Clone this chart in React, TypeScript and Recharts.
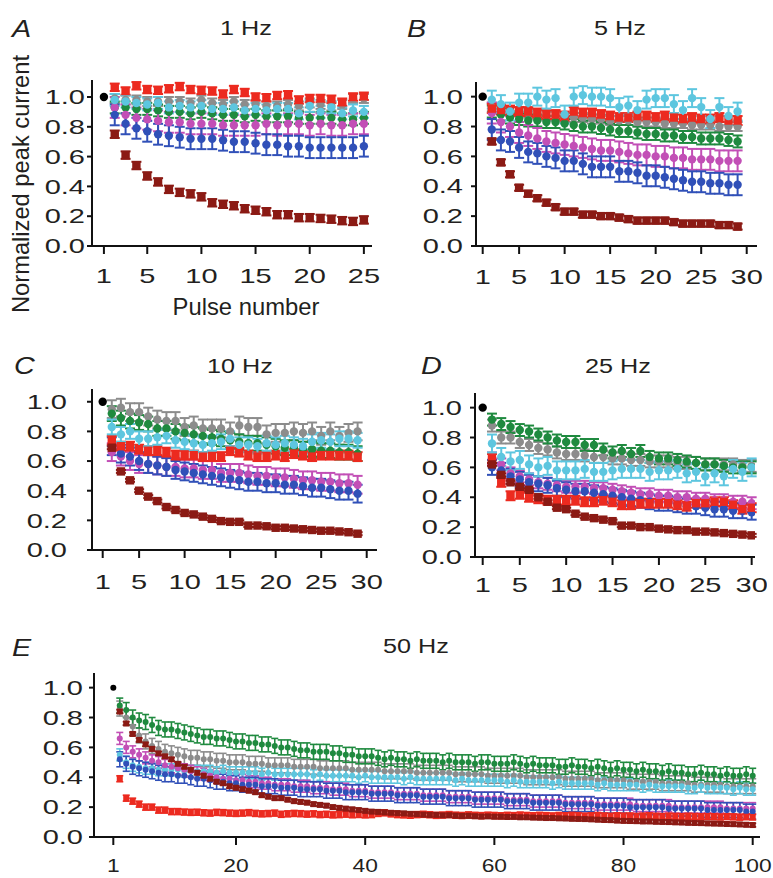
import React from 'react';
import { LineChart, Line, XAxis, YAxis, ErrorBar } from 'recharts';

const FONT = '"Liberation Sans", Arial, Helvetica, sans-serif';
const INK = '#231f20';

const COLORS: Record<string, string> = {
  gray: '#8c8c8c',
  green: '#1f8a3f',
  magenta: '#c24fb6',
  blue: '#3050b8',
  red: '#ec2a1f',
  cyan: '#5dc6df',
  maroon: '#8b1a14',
};
const SQUARES = ['maroon', 'red'];

const yTicks = [0, 0.2, 0.4, 0.6, 0.8, 1.0];
const xTicksA = [1, 5, 10, 15, 20, 25];
const xTicks30 = [1, 5, 10, 15, 20, 25, 30];
const xTicksE = [1, 20, 40, 60, 80, 100];

// ---- A: 1 Hz, pulses 2..25
const maroonA = [0.75, 0.61, 0.54, 0.47, 0.43, 0.38, 0.36, 0.35, 0.33, 0.29, 0.28, 0.27, 0.25, 0.24, 0.23, 0.21, 0.21, 0.19, 0.19, 0.185, 0.18, 0.17, 0.165, 0.175];
const redA = [1.065, 1.04, 1.075, 1.05, 1.045, 1.055, 1.07, 1.05, 1.045, 1.04, 1.02, 1.05, 1.03, 1.0, 0.995, 1.01, 1.015, 0.98, 0.99, 0.99, 0.985, 0.965, 1.0, 1.005];
const grayA = [0.99, 0.98, 0.98, 0.97, 0.97, 0.97, 0.97, 0.96, 0.98, 0.96, 0.95, 0.97, 0.95, 0.95, 0.94, 0.94, 0.95, 0.94, 0.96, 0.95, 0.94, 0.95, 0.99, 0.99];
const cyanA = [0.98, 0.97, 0.96, 0.95, 0.96, 0.93, 0.94, 0.93, 0.94, 0.92, 0.92, 0.93, 0.91, 0.92, 0.91, 0.92, 0.92, 0.89, 0.94, 0.9, 0.93, 0.89, 0.91, 0.9];
const greenA = [0.93, 0.93, 0.92, 0.92, 0.91, 0.9, 0.9, 0.89, 0.9, 0.89, 0.88, 0.88, 0.87, 0.88, 0.87, 0.87, 0.87, 0.86, 0.86, 0.86, 0.86, 0.85, 0.85, 0.86];
const magentaA = [0.93, 0.88, 0.86, 0.85, 0.84, 0.83, 0.83, 0.82, 0.82, 0.82, 0.81, 0.81, 0.81, 0.81, 0.82, 0.81, 0.82, 0.82, 0.81, 0.82, 0.81, 0.81, 0.82, 0.82];
const blueA = [0.88, 0.82, 0.79, 0.77, 0.75, 0.74, 0.73, 0.72, 0.72, 0.72, 0.71, 0.7, 0.7, 0.69, 0.68, 0.68, 0.67, 0.67, 0.66, 0.66, 0.66, 0.66, 0.66, 0.67];

// ---- B: 5 Hz, pulses 2..29
const maroonB = [0.7, 0.56, 0.48, 0.39, 0.35, 0.32, 0.29, 0.26, 0.23, 0.23, 0.21, 0.21, 0.2, 0.2, 0.19, 0.18, 0.17, 0.17, 0.17, 0.17, 0.16, 0.15, 0.15, 0.15, 0.15, 0.14, 0.14, 0.13];
const redB = [0.92, 0.91, 0.91, 0.9, 0.9, 0.89, 0.88, 0.88, 0.87, 0.9, 0.89, 0.89, 0.88, 0.87, 0.86, 0.86, 0.87, 0.87, 0.86, 0.87, 0.86, 0.85, 0.86, 0.85, 0.85, 0.86, 0.84, 0.84];
const cyanB = [0.98, 0.95, 0.9, 0.96, 0.96, 1.0, 0.98, 0.99, 0.88, 1.0, 1.01, 1.0, 1.0, 0.99, 0.93, 0.94, 0.91, 0.98, 0.99, 0.99, 0.95, 0.91, 0.99, 0.93, 0.85, 0.93, 0.87, 0.9];
const grayB = [0.93, 0.92, 0.9, 0.9, 0.89, 0.88, 0.87, 0.87, 0.86, 0.86, 0.86, 0.85, 0.85, 0.84, 0.84, 0.84, 0.83, 0.83, 0.83, 0.82, 0.82, 0.82, 0.81, 0.81, 0.81, 0.8, 0.8, 0.8];
const greenB = [0.9, 0.88, 0.86, 0.85, 0.84, 0.84, 0.83, 0.83, 0.82, 0.81, 0.8, 0.8, 0.79, 0.78, 0.77, 0.77, 0.76, 0.75, 0.75, 0.74, 0.74, 0.73, 0.73, 0.72, 0.72, 0.72, 0.71, 0.7];
const magentaB = [0.89, 0.83, 0.8, 0.76, 0.74, 0.72, 0.7, 0.69, 0.68, 0.67, 0.66, 0.65, 0.64, 0.64, 0.63, 0.62, 0.61, 0.61, 0.6, 0.6, 0.59, 0.59, 0.58, 0.58, 0.58, 0.57, 0.57, 0.57];
const blueB = [0.78, 0.71, 0.7, 0.66, 0.63, 0.62, 0.6, 0.59, 0.57, 0.57, 0.55, 0.53, 0.53, 0.53, 0.5, 0.5, 0.49, 0.47, 0.47, 0.46, 0.45, 0.44, 0.43, 0.43, 0.42, 0.42, 0.41, 0.41];

// ---- C: 10 Hz, pulses 2..29
const maroonC = [0.69, 0.53, 0.47, 0.4, 0.36, 0.33, 0.29, 0.27, 0.25, 0.24, 0.225, 0.21, 0.195, 0.19, 0.19, 0.165, 0.165, 0.16, 0.15, 0.15, 0.145, 0.14, 0.135, 0.13, 0.13, 0.125, 0.12, 0.11];
const grayC = [0.95, 0.96, 0.93, 0.93, 0.9, 0.88, 0.87, 0.87, 0.83, 0.84, 0.82, 0.82, 0.82, 0.8, 0.84, 0.83, 0.83, 0.78, 0.79, 0.79, 0.8, 0.79, 0.8, 0.77, 0.8, 0.77, 0.79, 0.8];
const greenC = [0.92, 0.89, 0.87, 0.86, 0.85, 0.82, 0.82, 0.8, 0.79, 0.78, 0.77, 0.76, 0.75, 0.74, 0.73, 0.72, 0.72, 0.71, 0.7, 0.69, 0.69, 0.68, 0.68, 0.67, 0.67, 0.66, 0.66, 0.65];
const cyanC = [0.83, 0.78, 0.8, 0.75, 0.75, 0.76, 0.77, 0.74, 0.73, 0.72, 0.71, 0.72, 0.73, 0.75, 0.71, 0.71, 0.7, 0.72, 0.71, 0.72, 0.71, 0.7, 0.73, 0.74, 0.73, 0.75, 0.75, 0.74];
const redC = [0.74, 0.7, 0.7, 0.68, 0.67, 0.67, 0.66, 0.64, 0.64, 0.64, 0.63, 0.63, 0.63, 0.67, 0.66, 0.64, 0.63, 0.63, 0.64, 0.63, 0.65, 0.64, 0.63, 0.64, 0.64, 0.64, 0.64, 0.63];
const magentaC = [0.66, 0.63, 0.6, 0.58, 0.58, 0.57, 0.56, 0.56, 0.55, 0.55, 0.54, 0.54, 0.52, 0.52, 0.52, 0.51, 0.5, 0.5, 0.49, 0.49, 0.48, 0.47, 0.47, 0.46, 0.46, 0.45, 0.45, 0.44];
const blueC = [0.7, 0.65, 0.63, 0.6, 0.58, 0.57, 0.56, 0.54, 0.53, 0.52, 0.51, 0.5, 0.49, 0.48, 0.47, 0.46, 0.46, 0.45, 0.45, 0.44, 0.44, 0.43, 0.42, 0.42, 0.41, 0.4, 0.4, 0.38];

// ---- D: 25 Hz, pulses 2..30
const maroonD = [0.62, 0.55, 0.5, 0.47, 0.45, 0.4, 0.37, 0.33, 0.32, 0.29, 0.27, 0.26, 0.25, 0.24, 0.21, 0.21, 0.2, 0.2, 0.19, 0.185, 0.18, 0.18, 0.17, 0.17, 0.165, 0.16, 0.155, 0.15, 0.145];
const greenD = [0.92, 0.89, 0.87, 0.85, 0.84, 0.82, 0.8, 0.78, 0.77, 0.77, 0.75, 0.75, 0.72, 0.7, 0.71, 0.69, 0.71, 0.67, 0.66, 0.66, 0.65, 0.64, 0.63, 0.62, 0.62, 0.61, 0.6, 0.6, 0.6];
const grayD = [0.88, 0.8, 0.8, 0.77, 0.75, 0.73, 0.72, 0.7, 0.69, 0.69, 0.68, 0.67, 0.67, 0.66, 0.66, 0.65, 0.65, 0.64, 0.64, 0.64, 0.63, 0.63, 0.63, 0.62, 0.62, 0.62, 0.62, 0.61, 0.61];
const cyanD = [0.76, 0.67, 0.64, 0.65, 0.62, 0.6, 0.61, 0.58, 0.58, 0.58, 0.59, 0.57, 0.57, 0.58, 0.59, 0.59, 0.59, 0.57, 0.58, 0.58, 0.59, 0.56, 0.57, 0.54, 0.56, 0.54, 0.59, 0.57, 0.6];
const magentaD = [0.66, 0.62, 0.56, 0.54, 0.52, 0.5, 0.49, 0.48, 0.47, 0.47, 0.47, 0.46, 0.46, 0.45, 0.44, 0.43, 0.42, 0.42, 0.41, 0.41, 0.4, 0.4, 0.39, 0.39, 0.38, 0.38, 0.37, 0.37, 0.36];
const blueD = [0.6, 0.58, 0.54, 0.52, 0.5, 0.49, 0.48, 0.46, 0.45, 0.44, 0.44, 0.43, 0.42, 0.41, 0.4, 0.39, 0.38, 0.37, 0.36, 0.36, 0.35, 0.34, 0.34, 0.33, 0.32, 0.32, 0.31, 0.31, 0.3];
const redD = [0.66, 0.5, 0.41, 0.42, 0.4, 0.39, 0.38, 0.38, 0.38, 0.38, 0.37, 0.37, 0.38, 0.37, 0.35, 0.35, 0.36, 0.36, 0.36, 0.36, 0.35, 0.34, 0.36, 0.36, 0.37, 0.37, 0.35, 0.32, 0.33];

// ---- E: 50 Hz, pulses 2..100
const maroonE = [
  0.84, 0.76, 0.69, 0.65, 0.62, 0.59, 0.56, 0.54, 0.52,
  0.49, 0.47, 0.45, 0.43, 0.41, 0.39, 0.37, 0.36, 0.34, 0.33,
  0.32, 0.31, 0.3, 0.28, 0.27, 0.26, 0.26, 0.25, 0.24, 0.235,
  0.23, 0.22, 0.215, 0.21, 0.2, 0.195, 0.19, 0.185, 0.18, 0.175,
  0.17, 0.168, 0.165, 0.162, 0.16, 0.158, 0.155, 0.153, 0.15, 0.148,
  0.148, 0.145, 0.146, 0.143, 0.141, 0.142, 0.139, 0.137, 0.138, 0.136,
  0.136, 0.134, 0.135, 0.132, 0.132, 0.13, 0.129, 0.127, 0.127, 0.125,
  0.124, 0.122, 0.121, 0.12, 0.118, 0.116, 0.114, 0.113, 0.11, 0.108,
  0.107, 0.106, 0.104, 0.104, 0.102, 0.101, 0.1, 0.098, 0.097, 0.095,
  0.094, 0.093, 0.091, 0.09, 0.089, 0.087, 0.086, 0.084, 0.082, 0.08,
];
const redE = [
  0.39, 0.26, 0.24, 0.22, 0.2, 0.2, 0.18, 0.18, 0.17,
  0.17, 0.167, 0.165, 0.166, 0.162, 0.16, 0.165, 0.163, 0.16, 0.158,
  0.16, 0.163, 0.158, 0.155, 0.157, 0.16, 0.152, 0.155, 0.158, 0.156,
  0.153, 0.155, 0.15, 0.152, 0.148, 0.15, 0.153, 0.149, 0.151, 0.148,
  0.15, 0.158, 0.162, 0.155, 0.15, 0.148, 0.146, 0.15, 0.152, 0.149,
  0.145, 0.147, 0.15, 0.146, 0.144, 0.148, 0.145, 0.143, 0.146, 0.144,
  0.142, 0.145, 0.143, 0.147, 0.144, 0.142, 0.145, 0.143, 0.141, 0.144,
  0.142, 0.145, 0.143, 0.14, 0.142, 0.144, 0.141, 0.139, 0.142, 0.14,
  0.141, 0.138, 0.14, 0.142, 0.139, 0.137, 0.14, 0.138, 0.136, 0.139,
  0.137, 0.135, 0.138, 0.136, 0.134, 0.137, 0.135, 0.133, 0.136, 0.134,
];
const greenE = [
  0.88, 0.85, 0.8, 0.78, 0.77, 0.75, 0.73, 0.72, 0.72,
  0.71, 0.7, 0.69, 0.68, 0.67, 0.67, 0.66, 0.66, 0.65, 0.64,
  0.64, 0.63, 0.63, 0.62, 0.62, 0.61, 0.6, 0.6, 0.59, 0.58,
  0.58, 0.57, 0.57, 0.57, 0.56, 0.56, 0.55, 0.55, 0.54, 0.54,
  0.54, 0.53, 0.52, 0.53, 0.52, 0.52, 0.51, 0.52, 0.51, 0.51,
  0.51, 0.5, 0.51, 0.5, 0.5, 0.5, 0.49, 0.5, 0.5, 0.49,
  0.49, 0.49, 0.5, 0.49, 0.48, 0.49, 0.48, 0.48, 0.48, 0.47,
  0.47, 0.48, 0.47, 0.47, 0.46, 0.47, 0.46, 0.45, 0.46, 0.45,
  0.45, 0.44, 0.45, 0.44, 0.44, 0.43, 0.44, 0.43, 0.43, 0.42,
  0.42, 0.43, 0.42, 0.42, 0.41, 0.42, 0.41, 0.41, 0.42, 0.41,
];
const grayE = [
  0.86, 0.8, 0.74, 0.68, 0.64, 0.61, 0.59, 0.57, 0.56,
  0.55, 0.54, 0.53, 0.53, 0.52, 0.52, 0.51, 0.51, 0.5, 0.5,
  0.5, 0.49, 0.49, 0.49, 0.48, 0.48, 0.48, 0.48, 0.47, 0.47,
  0.47, 0.47, 0.46, 0.46, 0.46, 0.46, 0.46, 0.45, 0.45, 0.45,
  0.45, 0.45, 0.44, 0.44, 0.44, 0.44, 0.44, 0.43, 0.43, 0.43,
  0.43, 0.43, 0.43, 0.42, 0.42, 0.42, 0.42, 0.42, 0.41, 0.41,
  0.41, 0.41, 0.41, 0.41, 0.4, 0.4, 0.4, 0.4, 0.4, 0.4,
  0.39, 0.39, 0.39, 0.39, 0.39, 0.38, 0.38, 0.38, 0.38, 0.38,
  0.37, 0.37, 0.37, 0.37, 0.37, 0.36, 0.36, 0.36, 0.36, 0.36,
  0.35, 0.35, 0.35, 0.35, 0.35, 0.34, 0.34, 0.34, 0.34, 0.34,
];
const cyanE = [
  0.55, 0.5, 0.48, 0.47, 0.46, 0.46, 0.45, 0.45, 0.45,
  0.45, 0.44, 0.44, 0.44, 0.44, 0.44, 0.43, 0.44, 0.43, 0.43,
  0.43, 0.43, 0.43, 0.42, 0.43, 0.42, 0.42, 0.42, 0.42, 0.42,
  0.42, 0.41, 0.42, 0.41, 0.41, 0.41, 0.41, 0.41, 0.4, 0.41,
  0.4, 0.4, 0.4, 0.4, 0.4, 0.39, 0.4, 0.39, 0.39, 0.39,
  0.39, 0.39, 0.39, 0.38, 0.39, 0.38, 0.38, 0.38, 0.38, 0.38,
  0.38, 0.37, 0.38, 0.37, 0.37, 0.37, 0.37, 0.37, 0.36, 0.37,
  0.36, 0.36, 0.36, 0.36, 0.36, 0.35, 0.36, 0.35, 0.35, 0.35,
  0.35, 0.35, 0.34, 0.35, 0.34, 0.34, 0.34, 0.34, 0.34, 0.33,
  0.33, 0.34, 0.33, 0.33, 0.33, 0.33, 0.32, 0.33, 0.32, 0.32,
];
const magentaE = [
  0.66, 0.6, 0.57, 0.55, 0.53, 0.51, 0.5, 0.48, 0.47,
  0.46, 0.45, 0.44, 0.43, 0.42, 0.41, 0.4, 0.39, 0.39, 0.38,
  0.38, 0.37, 0.37, 0.36, 0.36, 0.35, 0.35, 0.35, 0.34, 0.34,
  0.34, 0.33, 0.33, 0.33, 0.32, 0.32, 0.32, 0.31, 0.31, 0.31,
  0.3, 0.3, 0.3, 0.3, 0.29, 0.29, 0.29, 0.29, 0.28, 0.28,
  0.28, 0.28, 0.27, 0.27, 0.27, 0.27, 0.26, 0.26, 0.26, 0.26,
  0.26, 0.25, 0.25, 0.25, 0.25, 0.24, 0.24, 0.24, 0.24, 0.24,
  0.23, 0.23, 0.23, 0.23, 0.23, 0.22, 0.22, 0.22, 0.22, 0.22,
  0.22, 0.21, 0.21, 0.21, 0.21, 0.21, 0.21, 0.2, 0.2, 0.2,
  0.2, 0.2, 0.2, 0.2, 0.2, 0.19, 0.19, 0.19, 0.19, 0.19,
];
const blueE = [
  0.52, 0.49, 0.47, 0.46, 0.45, 0.44, 0.43, 0.42, 0.42,
  0.41, 0.41, 0.4, 0.39, 0.39, 0.38, 0.37, 0.37, 0.36, 0.36,
  0.35, 0.35, 0.35, 0.34, 0.34, 0.34, 0.33, 0.33, 0.33, 0.32,
  0.32, 0.32, 0.32, 0.31, 0.31, 0.31, 0.3, 0.3, 0.3, 0.3,
  0.29, 0.29, 0.29, 0.29, 0.28, 0.28, 0.28, 0.28, 0.27, 0.27,
  0.27, 0.27, 0.26, 0.26, 0.26, 0.26, 0.25, 0.25, 0.25, 0.25,
  0.25, 0.24, 0.24, 0.24, 0.24, 0.23, 0.23, 0.23, 0.23, 0.23,
  0.22, 0.22, 0.22, 0.22, 0.22, 0.21, 0.21, 0.21, 0.21, 0.21,
  0.2, 0.2, 0.2, 0.2, 0.2, 0.2, 0.19, 0.19, 0.19, 0.19,
  0.19, 0.19, 0.18, 0.18, 0.18, 0.18, 0.18, 0.18, 0.17, 0.17,
];

type Series = { key: string; vals: number[]; err: number };

const seriesA: Series[] = [
  { key: 'gray', vals: grayA, err: 0.03 },
  { key: 'green', vals: greenA, err: 0.04 },
  { key: 'magenta', vals: magentaA, err: 0.07 },
  { key: 'blue', vals: blueA, err: 0.07 },
  { key: 'red', vals: redA, err: 0.025 },
  { key: 'cyan', vals: cyanA, err: 0.04 },
  { key: 'maroon', vals: maroonA, err: 0.025 },
];
const seriesB: Series[] = [
  { key: 'gray', vals: grayB, err: 0.03 },
  { key: 'green', vals: greenB, err: 0.04 },
  { key: 'magenta', vals: magentaB, err: 0.07 },
  { key: 'blue', vals: blueB, err: 0.07 },
  { key: 'red', vals: redB, err: 0.03 },
  { key: 'cyan', vals: cyanB, err: 0.06 },
  { key: 'maroon', vals: maroonB, err: 0.02 },
];
const seriesC: Series[] = [
  { key: 'gray', vals: grayC, err: 0.06 },
  { key: 'green', vals: greenC, err: 0.05 },
  { key: 'magenta', vals: magentaC, err: 0.06 },
  { key: 'blue', vals: blueC, err: 0.06 },
  { key: 'red', vals: redC, err: 0.03 },
  { key: 'cyan', vals: cyanC, err: 0.05 },
  { key: 'maroon', vals: maroonC, err: 0.01 },
];
const seriesD: Series[] = [
  { key: 'gray', vals: grayD, err: 0.04 },
  { key: 'green', vals: greenD, err: 0.04 },
  { key: 'magenta', vals: magentaD, err: 0.04 },
  { key: 'blue', vals: blueD, err: 0.05 },
  { key: 'red', vals: redD, err: 0.03 },
  { key: 'cyan', vals: cyanD, err: 0.06 },
  { key: 'maroon', vals: maroonD, err: 0.01 },
];
const seriesE: Series[] = [
  { key: 'gray', vals: grayE, err: 0.05 },
  { key: 'cyan', vals: cyanE, err: 0.04 },
  { key: 'green', vals: greenE, err: 0.05 },
  { key: 'magenta', vals: magentaE, err: 0.04 },
  { key: 'blue', vals: blueE, err: 0.05 },
  { key: 'red', vals: redE, err: 0.02 },
  { key: 'maroon', vals: maroonE, err: 0.012 },
];

function buildRows(series: Series[]) {
  const rows: any[] = [{ x: 1, black: 1 }];
  const n = Math.max(...series.map((s) => s.vals.length));
  for (let i = 0; i < n; i++) {
    const row: any = { x: i + 2 };
    series.forEach((s) => {
      row[s.key] = s.vals[i];
      row[s.key + 'Err'] = s.err;
    });
    rows.push(row);
  }
  return rows;
}

function makeDot(color: string, square: boolean, r: number) {
  return (p: any) => {
    const { cx, cy, index } = p;
    const k = `d-${index}`;
    if (cx == null || cy == null || Number.isNaN(cy)) return <g key={k} />;
    return square ? (
      <rect key={k} x={cx - r} y={cy - r} width={r * 2} height={r * 2} fill={color} />
    ) : (
      <circle key={k} cx={cx} cy={cy} r={r} fill={color} />
    );
  };
}

// tick labels in the figure are set wide, so stretch them horizontally
function makeXTick(size: number, sx: number) {
  return (props: any) => {
    const { x, y, payload } = props;
    return (
      <text transform={`translate(${x},${y}) scale(${sx},1)`} textAnchor="middle" dy="0.72em" fontSize={size} fontFamily={FONT} fill={INK}>
        {payload.value}
      </text>
    );
  };
}

function YTick(props: any) {
  const { x, y, payload } = props;
  return (
    <text transform={`translate(${x},${y}) scale(1.45,1)`} textAnchor="end" dy="0.36em" fontSize={20} fontFamily={FONT} fill={INK}>
      {Number(payload.value).toFixed(1)}
    </text>
  );
}

type PanelProps = {
  left: number; top: number; right: number; bottom: number;
  xDomain: [number, number]; yMax: number; xTicks: number[];
  yGap: number; xGap: number; series: Series[];
  r: number; cap: number; bw: number; tickFont?: number; tickScale?: number;
};

function Panel(p: PanelProps) {
  const YW = 80, XH = 50, MT = 12, MR = 12;
  const rows = buildRows(p.series);
  const width = p.right - p.left + YW + MR;
  const height = p.bottom - p.top + MT + XH;
  const XTick = makeXTick(p.tickFont ?? 20, p.tickScale ?? 1.45);
  return (
    <div style={{ position: 'absolute', left: p.left - YW, top: p.top - MT }}>
      <LineChart width={width} height={height} data={rows} margin={{ top: MT, right: MR, left: 0, bottom: 0 }}>
        <XAxis dataKey="x" type="number" domain={p.xDomain} allowDataOverflow ticks={p.xTicks} interval={0}
          height={XH} tickSize={8} tickMargin={p.xGap - 8} stroke="#111" strokeWidth={2} tick={XTick} />
        <YAxis type="number" domain={[0, p.yMax]} allowDataOverflow ticks={yTicks} interval={0}
          width={YW} tickSize={5} tickMargin={p.yGap - 5} stroke="#111" strokeWidth={2} tick={<YTick />} />
        {p.series.map((s) => (
          <Line key={s.key} dataKey={s.key} stroke="none" isAnimationActive={false} activeDot={false}
            legendType="none" dot={makeDot(COLORS[s.key], SQUARES.includes(s.key), p.r)}>
            <ErrorBar dataKey={s.key + 'Err'} direction="y" width={p.cap} strokeWidth={p.bw} stroke={COLORS[s.key]} />
          </Line>
        ))}
        <Line dataKey="black" stroke="none" isAnimationActive={false} activeDot={false} legendType="none"
          dot={makeDot('#000', false, p.r)} />
      </LineChart>
    </div>
  );
}

const txt = { fontFamily: FONT, fill: INK } as const;

export default function App() {
  return (
    <div style={{ position: 'absolute', left: 0, top: 0, width: 773, height: 878, background: '#fff', overflow: 'hidden' }}>
      <Panel left={92} top={80} right={372} bottom={246} xDomain={[-0.1, 25.75]} yMax={1.114} xTicks={xTicksA}
        yGap={7} xGap={23} series={seriesA} r={4.2} cap={5} bw={2} />
      <Panel left={476} top={82} right={757} bottom={246} xDomain={[0.264, 31.13]} yMax={1.098} xTicks={xTicks30}
        yGap={13} xGap={24} series={seriesB} r={4.2} cap={5} bw={2} />
      <Panel left={92} top={389} right={377} bottom={550} xDomain={[-0.175, 31.13]} yMax={1.086} xTicks={xTicks30}
        yGap={25} xGap={25} series={seriesC} r={4.2} cap={5} bw={2} />
      <Panel left={475} top={393} right={755} bottom={557} xDomain={[0.17, 30.36]} yMax={1.098} xTicks={xTicks30}
        yGap={13} xGap={21} series={seriesD} r={4.2} cap={5} bw={2} />
      <Panel left={94} top={673} right={760} bottom={837} xDomain={[-1.99, 101.13]} yMax={1.098} xTicks={xTicksE}
        yGap={11} xGap={21} series={seriesE} r={3} cap={3.5} bw={1.6} tickFont={19} tickScale={1.2} />

      <svg width={773} height={878} style={{ position: 'absolute', left: 0, top: 0, pointerEvents: 'none' }}>
        <text transform="translate(12,37) scale(1.25,1)" fontSize={23} fontStyle="italic" {...txt}>A</text>
        <text transform="translate(246,35) scale(1.2,1)" fontSize={21} textAnchor="middle" {...txt}>1 Hz</text>
        <text transform="translate(407,37) scale(1.25,1)" fontSize={23} fontStyle="italic" {...txt}>B</text>
        <text transform="translate(620,35) scale(1.2,1)" fontSize={21} textAnchor="middle" {...txt}>5 Hz</text>
        <text transform="translate(14,374) scale(1.25,1)" fontSize={23} fontStyle="italic" {...txt}>C</text>
        <text transform="translate(240,373) scale(1.2,1)" fontSize={21} textAnchor="middle" {...txt}>10 Hz</text>
        <text transform="translate(421,374) scale(1.25,1)" fontSize={23} fontStyle="italic" {...txt}>D</text>
        <text transform="translate(618,373) scale(1.2,1)" fontSize={21} textAnchor="middle" {...txt}>25 Hz</text>
        <text transform="translate(12,656) scale(1.25,1)" fontSize={23} fontStyle="italic" {...txt}>E</text>
        <text transform="translate(416,653) scale(1.2,1)" fontSize={21} textAnchor="middle" {...txt}>50 Hz</text>
        <text transform="translate(29,184) rotate(-90)" fontSize={23.7} textAnchor="middle" {...txt}>Normalized peak current</text>
        <text x={246} y={315} fontSize={23.8} textAnchor="middle" {...txt}>Pulse number</text>
      </svg>
    </div>
  );
}
